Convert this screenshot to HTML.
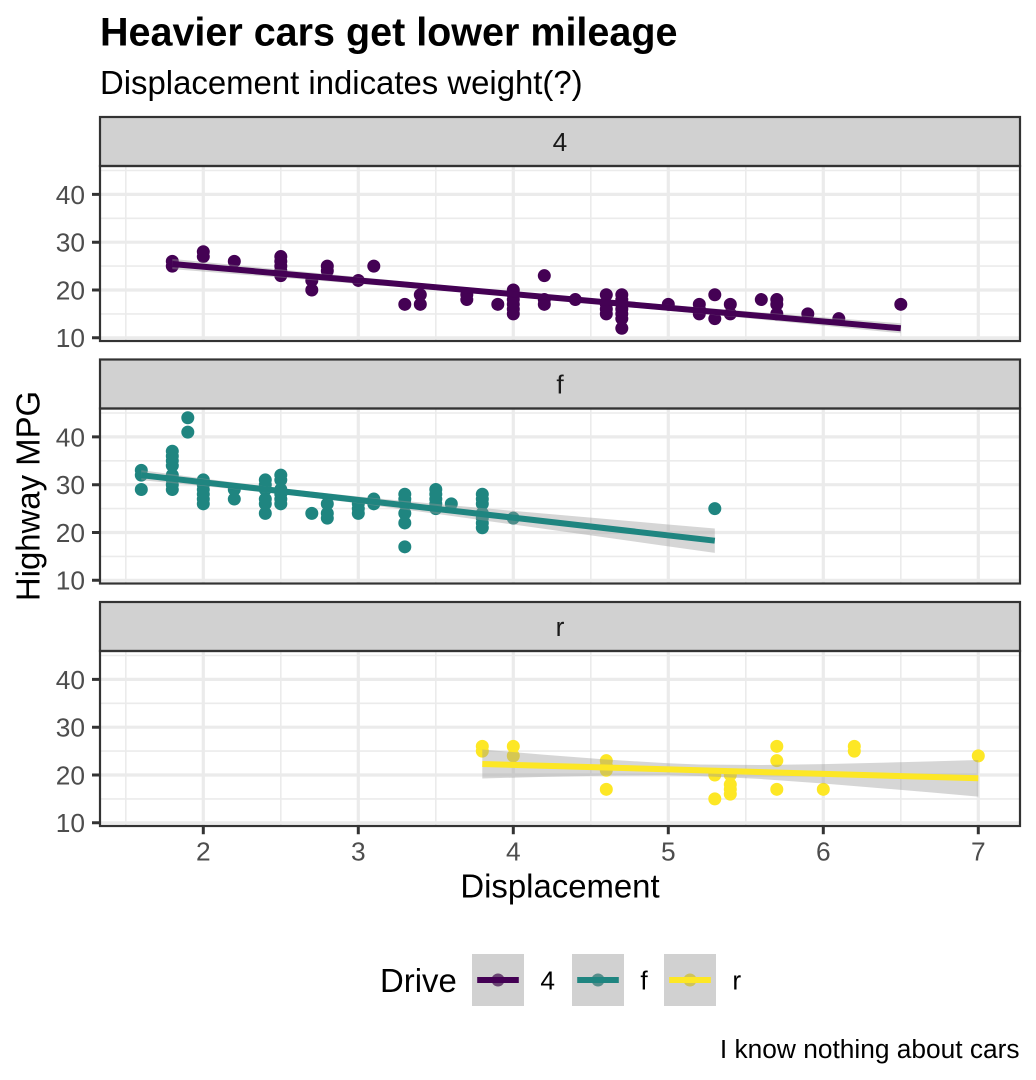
<!DOCTYPE html>
<html><head><meta charset="utf-8"><style>
html,body{margin:0;padding:0;background:#fff;}
svg{display:block;font-family:"Liberation Sans",Arial,sans-serif;}
</style></head><body>
<svg width="1036" height="1080" viewBox="0 0 1036 1080" xmlns="http://www.w3.org/2000/svg">
<defs>
<g id="grid">
<rect x="100" y="166" width="920" height="175" fill="#fff"/>
<path d="M100 170.5H1020M100 218.3H1020M100 266.1H1020M100 313.9H1020M125.8 166V341M280.8 166V341M435.8 166V341M590.8 166V341M745.8 166V341M900.8 166V341" stroke="#EBEBEB" stroke-width="1.6" fill="none"/>
<path d="M100 194.4H1020M100 242.2H1020M100 290H1020M100 337.8H1020M203.3 166V341M358.3 166V341M513.3 166V341M668.3 166V341M823.3 166V341M978.3 166V341" stroke="#EBEBEB" stroke-width="3.2" fill="none"/>
</g>
<g id="frame">
<rect x="100" y="117" width="920" height="49" fill="#D1D1D1" stroke="#333333" stroke-width="2.2"/>
<rect x="100" y="166" width="920" height="175" fill="none" stroke="#333333" stroke-width="2.2"/>
<path d="M92 194.4H100M92 242.2H100M92 290H100M92 337.8H100" stroke="#333333" stroke-width="3"/>
</g>
<clipPath id="pc"><rect x="100" y="166" width="920" height="175"/></clipPath>
</defs>

<rect width="1036" height="1080" fill="#fff"/>

<!-- Titles -->
<text x="100" y="45.5" font-size="39.5" font-weight="bold" fill="#000">Heavier cars get lower mileage</text>
<text x="100" y="94" font-size="32.9" fill="#000">Displacement indicates weight(?)</text>

<!-- grids -->
<use href="#grid"/>
<use href="#grid" y="242.5"/>
<use href="#grid" y="485"/>

<!-- Panel 1: drv 4 -->
<g clip-path="url(#pc)">
<path fill="none" stroke="#440154" stroke-width="13" stroke-linecap="round" d="M172.3 261.32h.01M172.3 266.1h.01M203.3 251.76h.01M203.3 256.54h.01M234.3 261.32h.01M280.8 256.54h.01M280.8 261.32h.01M280.8 266.1h.01M280.8 270.88h.01M280.8 275.66h.01M311.8 280.44h.01M311.8 290h.01M327.3 266.1h.01M327.3 270.88h.01M358.3 280.44h.01M373.8 266.1h.01M404.8 304.34h.01M420.3 294.78h.01M420.3 304.34h.01M466.8 294.78h.01M466.8 299.56h.01M497.8 304.34h.01M513.3 290h.01M513.3 294.78h.01M513.3 299.56h.01M513.3 304.34h.01M513.3 309.12h.01M513.3 313.9h.01M544.3 275.66h.01M544.3 299.56h.01M544.3 304.34h.01M575.3 299.56h.01M606.3 294.78h.01M606.3 304.34h.01M606.3 309.12h.01M606.3 313.9h.01M621.8 294.78h.01M621.8 299.56h.01M621.8 304.34h.01M621.8 309.12h.01M621.8 313.9h.01M621.8 318.68h.01M621.8 328.24h.01M668.3 304.34h.01M699.3 304.34h.01M699.3 309.12h.01M699.3 313.9h.01M714.8 294.78h.01M714.8 318.68h.01M730.3 304.34h.01M730.3 313.9h.01M761.3 299.56h.01M776.8 299.56h.01M776.8 304.34h.01M776.8 313.9h.01M807.8 313.9h.01M838.8 318.68h.01M900.8 304.34h.01"/>
<polygon fill="#999999" fill-opacity="0.4" points="172.3,258.84 296.3,271.03 420.3,282.97 544.3,294.33 668.3,304.86 792.3,314.81 900.8,323.3 900.8,333.3 792.3,322.63 668.3,310.7 544.3,299.33 420.3,288.81 296.3,278.85 172.3,269.16"/>
<line x1="172.3" y1="264" x2="900.8" y2="328.3" stroke="#440154" stroke-width="6"/>
</g>

<!-- Panel 2: drv f -->
<g transform="translate(0,242.5)">
<g clip-path="url(#pc)">
<path fill="none" stroke="#1F8580" stroke-width="13" stroke-linecap="round" d="M141.3 227.86h.01M141.3 232.64h.01M141.3 246.98h.01M172.3 208.74h.01M172.3 213.52h.01M172.3 218.3h.01M172.3 223.08h.01M172.3 232.64h.01M172.3 237.42h.01M172.3 242.2h.01M172.3 246.98h.01M187.8 175.28h.01M187.8 189.62h.01M203.3 237.42h.01M203.3 242.2h.01M203.3 246.98h.01M203.3 251.76h.01M203.3 256.54h.01M203.3 261.32h.01M234.3 246.98h.01M234.3 256.54h.01M265.3 237.42h.01M265.3 242.2h.01M265.3 246.98h.01M265.3 256.54h.01M265.3 261.32h.01M265.3 270.88h.01M280.8 232.64h.01M280.8 237.42h.01M280.8 246.98h.01M280.8 251.76h.01M280.8 256.54h.01M280.8 261.32h.01M311.8 270.88h.01M327.3 261.32h.01M327.3 270.88h.01M327.3 275.66h.01M358.3 261.32h.01M358.3 266.1h.01M358.3 270.88h.01M373.8 256.54h.01M373.8 261.32h.01M404.8 251.76h.01M404.8 256.54h.01M404.8 261.32h.01M404.8 270.88h.01M404.8 280.44h.01M404.8 304.34h.01M435.8 246.98h.01M435.8 251.76h.01M435.8 256.54h.01M435.8 261.32h.01M435.8 266.1h.01M451.3 261.32h.01M482.3 251.76h.01M482.3 256.54h.01M482.3 261.32h.01M482.3 270.88h.01M482.3 275.66h.01M482.3 280.44h.01M482.3 285.22h.01M513.3 275.66h.01M714.8 266.1h.01"/>
<polygon fill="#999999" fill-opacity="0.4" points="141.3,227.66 203.3,236.04 290.1,246.84 358.3,254.05 435.8,261.37 513.3,268.34 590.8,275.17 668.3,281.95 714.8,286.0 714.8,310.4 668.3,303.83 590.8,292.91 513.3,282.04 435.8,271.31 358.3,260.91 290.1,252.54 203.3,243.52 141.3,237.74"/>
<line x1="141.3" y1="232.7" x2="714.8" y2="298.2" stroke="#1F8580" stroke-width="6"/>
</g>
</g>

<!-- Panel 3: drv r -->
<g transform="translate(0,485)">
<g clip-path="url(#pc)">
<path fill="none" stroke="#FDE725" stroke-width="13" stroke-linecap="round" d="M482.3 261.32h.01M482.3 266.1h.01M513.3 261.32h.01M513.3 270.88h.01M606.3 275.66h.01M606.3 280.44h.01M606.3 285.22h.01M606.3 304.34h.01M714.8 290h.01M714.8 313.9h.01M730.3 290h.01M730.3 299.56h.01M730.3 304.34h.01M730.3 309.12h.01M776.8 261.32h.01M776.8 275.66h.01M776.8 304.34h.01M823.3 304.34h.01M854.3 261.32h.01M854.3 266.1h.01M978.3 270.88h.01"/>
<polygon fill="#999999" fill-opacity="0.4" points="482.3,264.5 544.3,269.69 606.3,274.5 668.3,278.29 699.3,279.46 761.3,280.04 823.3,279.13 885.3,277.65 931.8,276.36 978.3,275.0 978.3,311.6 931.8,307.56 885.3,303.59 823.3,298.53 761.3,294.06 699.3,291.06 668.3,290.43 606.3,290.66 544.3,291.89 482.3,293.5"/>
<line x1="482.3" y1="279" x2="978.3" y2="293.3" stroke="#FDE725" stroke-width="6"/>
</g>
</g>

<!-- frames, strips, y ticks -->
<use href="#frame"/>
<use href="#frame" y="242.5"/>
<use href="#frame" y="485"/>

<!-- strip labels -->
<g font-size="26.3" fill="#1A1A1A" text-anchor="middle">
<text x="560" y="150.9">4</text>
<text x="560" y="393.4">f</text>
<text x="560" y="635.9">r</text>
</g>

<!-- y tick labels -->
<g font-size="26.3" fill="#4D4D4D" text-anchor="end">
<text x="85" y="203.8">40</text><text x="85" y="251.6">30</text><text x="85" y="299.4">20</text><text x="85" y="347.2">10</text>
<text x="85" y="446.3">40</text><text x="85" y="494.1">30</text><text x="85" y="541.9">20</text><text x="85" y="589.7">10</text>
<text x="85" y="688.8">40</text><text x="85" y="736.6">30</text><text x="85" y="784.4">20</text><text x="85" y="832.2">10</text>
</g>

<!-- x ticks -->
<path d="M203.3 826V834.2M358.3 826V834.2M513.3 826V834.2M668.3 826V834.2M823.3 826V834.2M978.3 826V834.2" stroke="#333333" stroke-width="3"/>
<g font-size="26.3" fill="#4D4D4D" text-anchor="middle">
<text x="203.3" y="860.5">2</text><text x="358.3" y="860.5">3</text><text x="513.3" y="860.5">4</text>
<text x="668.3" y="860.5">5</text><text x="823.3" y="860.5">6</text><text x="978.3" y="860.5">7</text>
</g>

<!-- axis titles -->
<text x="560" y="897.5" font-size="32.9" text-anchor="middle" fill="#000">Displacement</text>
<text transform="translate(39.5,496) rotate(-90)" font-size="32.9" text-anchor="middle" fill="#000">Highway MPG</text>

<!-- legend -->
<text x="380" y="991.8" font-size="32.9" fill="#000">Drive</text>
<rect x="472" y="954" width="52" height="52" fill="#fff"/>
<circle cx="498" cy="980" r="6.5" fill="#440154"/>
<rect x="472" y="954" width="52" height="52" fill="#999999" fill-opacity="0.45"/>
<line x1="477.2" y1="980" x2="518.8" y2="980" stroke="#440154" stroke-width="6"/>
<rect x="572" y="954" width="52" height="52" fill="#fff"/>
<circle cx="598" cy="980" r="6.5" fill="#1F8580"/>
<rect x="572" y="954" width="52" height="52" fill="#999999" fill-opacity="0.45"/>
<line x1="577.2" y1="980" x2="618.8" y2="980" stroke="#1F8580" stroke-width="6"/>
<rect x="664" y="954" width="52" height="52" fill="#fff"/>
<circle cx="690" cy="980" r="6.5" fill="#FDE725"/>
<rect x="664" y="954" width="52" height="52" fill="#999999" fill-opacity="0.45"/>
<line x1="669.2" y1="980" x2="710.8" y2="980" stroke="#FDE725" stroke-width="6"/>
<g font-size="26.3" fill="#000">
<text x="540.4" y="989.4">4</text>
<text x="640.4" y="989.4">f</text>
<text x="732.4" y="989.4">r</text>
</g>

<!-- caption -->
<text x="1019.6" y="1058" font-size="26.3" text-anchor="end" fill="#000">I know nothing about cars</text>
</svg>
</body></html>
